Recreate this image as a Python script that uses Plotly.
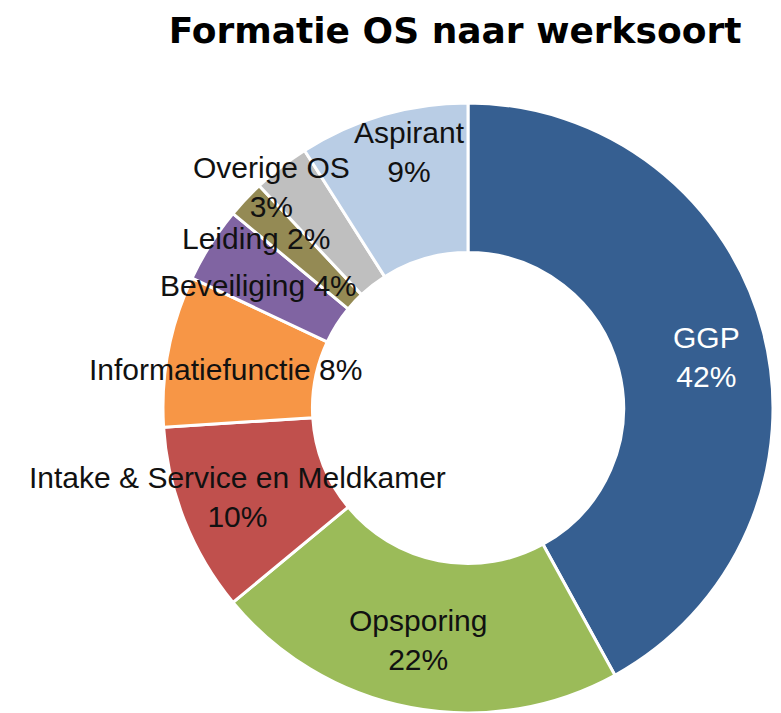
import math
import plotly.graph_objects as go

# ---- data ----
categories = ["GGP", "Opsporing", "Intake & Service en Meldkamer", "Informatiefunctie",
              "Beveiliging", "Leiding", "Overige OS", "Aspirant"]
percentages = [42, 22, 10, 8, 4, 2, 3, 9]
label_texts = ["GGP<br>42%", "Opsporing<br>22%", "Intake & Service en Meldkamer<br>10%",
               "Informatiefunctie 8%", "Beveiliging 4%", "Leiding 2%",
               "Overige OS<br>3%", "Aspirant<br>9%"]
title_text = "Formatie OS naar werksoort"

# ---- styles / layout ----
colors = ["#365F91", "#9BBB59", "#C0504D", "#F79646", "#8064A2", "#948A54", "#BFBFBF", "#B9CDE5"]
label_colors = ["white"] + ["#111111"] * 7
# pixel nudges of each label from the middle of its ring segment (dx right, dy up)
label_nudge = [(15, -6), (-7, -6), (-16, -4), (-16, -5), (-15, -1), (-44, 12), (-55, 39), (6, 35)]

W, H = 773, 705
dom_x = [155 / W, 765 / W]
dom_y = [0.0, (H - 95) / H]
hole = 0.51

fig = go.Figure(go.Pie(
    labels=categories, values=percentages, sort=False, direction="clockwise", rotation=0,
    hole=hole, marker=dict(colors=colors, line=dict(color="white", width=3)),
    textinfo="none", hoverinfo="label+percent", showlegend=False,
    domain=dict(x=dom_x, y=dom_y),
))

# label placement derived from the slice mid-angles
cx = (dom_x[0] + dom_x[1]) / 2 * W
cy = (dom_y[0] + dom_y[1]) / 2 * H
R = min((dom_x[1] - dom_x[0]) * W, (dom_y[1] - dom_y[0]) * H) / 2
rr = R * (1 + hole) / 2
total = sum(percentages)
cum = 0
annotations = []
for txt, v, col, (dx, dy) in zip(label_texts, percentages, label_colors, label_nudge):
    mid = (cum + v / 2) / total * 2 * math.pi
    cum += v
    px = cx + rr * math.sin(mid)
    py = cy + rr * math.cos(mid)
    annotations.append(dict(
        x=px / W, y=py / H, xref="paper", yref="paper", text=txt, showarrow=False,
        xanchor="center", yanchor="middle", xshift=dx, yshift=dy,
        font=dict(family="Liberation Sans, Arial, sans-serif", size=30, color=col),
    ))

fig.update_layout(
    width=W, height=H, margin=dict(l=0, r=0, t=0, b=0),
    paper_bgcolor="white", plot_bgcolor="white",
    title=dict(text="<b>" + title_text + "</b>", x=447 / W, y=(H - 22) / H,
               xanchor="center", yanchor="middle",
               font=dict(family="DejaVu Sans, sans-serif", size=36, color="black")),
    annotations=annotations,
)

fig.write_html("out.html")
